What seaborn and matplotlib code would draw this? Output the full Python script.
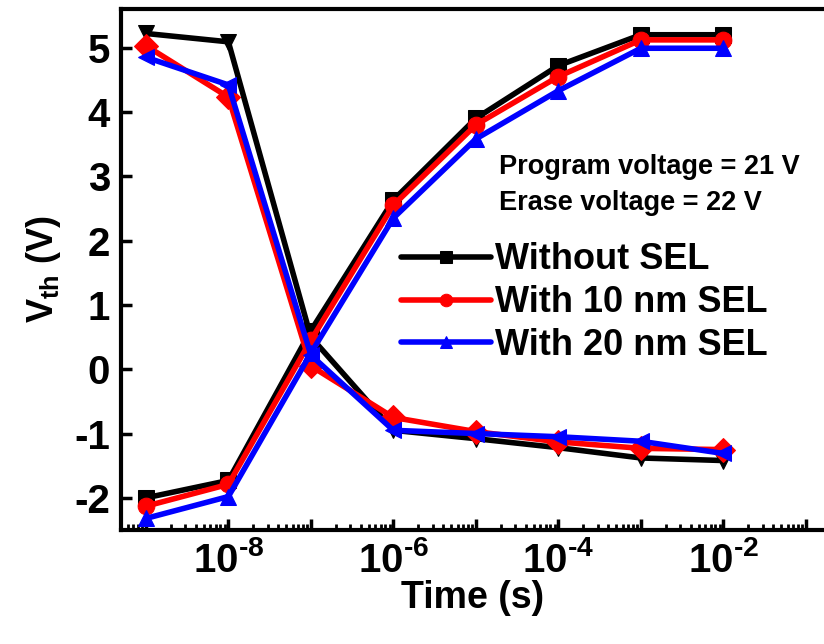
import numpy as np
import pandas as pd
import seaborn as sns
import matplotlib.pyplot as plt
from matplotlib.ticker import LogLocator, FuncFormatter, NullFormatter, MultipleLocator

#%% data
time_s = [1e-9, 1e-8, 1e-7, 1e-6, 1e-5, 1e-4, 1e-3, 1e-2]

# program curves (rising)
prog_no_sel = [-2.00, -1.73, 0.60, 2.63, 3.90, 4.72, 5.20, 5.20]
prog_10nm = [-2.13, -1.79, 0.45, 2.55, 3.80, 4.55, 5.12, 5.12]
prog_20nm = [-2.32, -1.98, 0.25, 2.35, 3.58, 4.33, 4.99, 4.99]

# erase curves (falling)
erase_no_sel = [5.22, 5.09, 0.50, -0.95, -1.08, -1.22, -1.38, -1.42]
erase_10nm = [5.03, 4.23, 0.05, -0.75, -0.97, -1.13, -1.23, -1.25]
erase_20nm = [4.85, 4.42, 0.22, -0.95, -1.00, -1.05, -1.12, -1.31]

labels = ['Without SEL', 'With 10 nm SEL', 'With 20 nm SEL']
colors = ['black', 'red', 'blue']
prog_markers = ['s', 'o', '^']
erase_markers = ['v', 'D', '<']

#%% plot
sns.set_style('ticks')
plt.rcParams['font.family'] = ['Liberation Sans', 'DejaVu Sans']
plt.rcParams['font.weight'] = 'bold'
plt.rcParams['mathtext.fontset'] = 'custom'
plt.rcParams['mathtext.rm'] = 'Liberation Sans:bold'
plt.rcParams['mathtext.bf'] = 'Liberation Sans:bold'
plt.rcParams['axes.unicode_minus'] = False
for k in ['text.color', 'axes.labelcolor', 'xtick.color', 'ytick.color', 'axes.edgecolor']:
    plt.rcParams[k] = 'black'

fig = plt.figure(figsize=(8.24, 6.44), dpi=100)
ax = fig.add_axes([0.147, 0.177, 0.853, 0.809])

prog = [prog_no_sel, prog_10nm, prog_20nm]
erase = [erase_no_sel, erase_10nm, erase_20nm]
for i in range(3):
    df_p = pd.DataFrame({'Time': time_s, 'Vth': prog[i]})
    df_e = pd.DataFrame({'Time': time_s, 'Vth': erase[i]})
    sns.lineplot(data=df_e, x='Time', y='Vth', ax=ax, color=colors[i],
                 marker=erase_markers[i], markersize=12, markeredgecolor=colors[i],
                 linewidth=4)
    sns.lineplot(data=df_p, x='Time', y='Vth', ax=ax, color=colors[i],
                 marker=prog_markers[i], markersize=12, markeredgecolor=colors[i],
                 linewidth=4, label=labels[i])

ax.set_xscale('log')
ax.set_xlim(10**-9.3, 10**-0.78)
ax.set_ylim(-2.5, 5.6)

ax.xaxis.set_major_locator(LogLocator(base=10, numticks=20))
ax.xaxis.set_minor_locator(LogLocator(base=10, subs=np.arange(2, 10), numticks=20))
def fmt(v, pos):
    e = int(round(np.log10(v)))
    if e % 2 == 0:
        return r'$\mathbf{10^{\text{-}%d}}$' % abs(e)
    return ''
ax.xaxis.set_major_formatter(FuncFormatter(fmt))
ax.xaxis.set_minor_formatter(NullFormatter())
ax.yaxis.set_major_locator(MultipleLocator(1))

ax.tick_params(axis='both', which='major', direction='in', length=8, width=2.5,
               labelsize=29, pad=8)
ax.tick_params(axis='x', which='minor', direction='in', length=4, width=2)
for side in ['left', 'bottom', 'top']:
    ax.spines[side].set_linewidth(3)
ax.spines['right'].set_visible(False)

ax.set_xlabel('Time (s)', fontsize=27, fontweight='bold', labelpad=0)
ax.set_ylabel(r'$\mathbf{V_{th}}$ (V)', fontsize=26, fontweight='bold', labelpad=8)

ax.legend(loc='upper left', bbox_to_anchor=(0.372, 0.587), frameon=False,
          handlelength=2.5, handletextpad=0.12, labelspacing=0.22,
          borderpad=0, markerscale=0.75, prop={'weight': 'bold', 'size': 26})

ax.text(0.538, 0.697, 'Program voltage = 21 V', transform=ax.transAxes,
        fontsize=19.5, fontweight='bold', va='center')
ax.text(0.538, 0.628, 'Erase voltage = 22 V', transform=ax.transAxes,
        fontsize=19.5, fontweight='bold', va='center')

fig.savefig('out.png', dpi=100)
